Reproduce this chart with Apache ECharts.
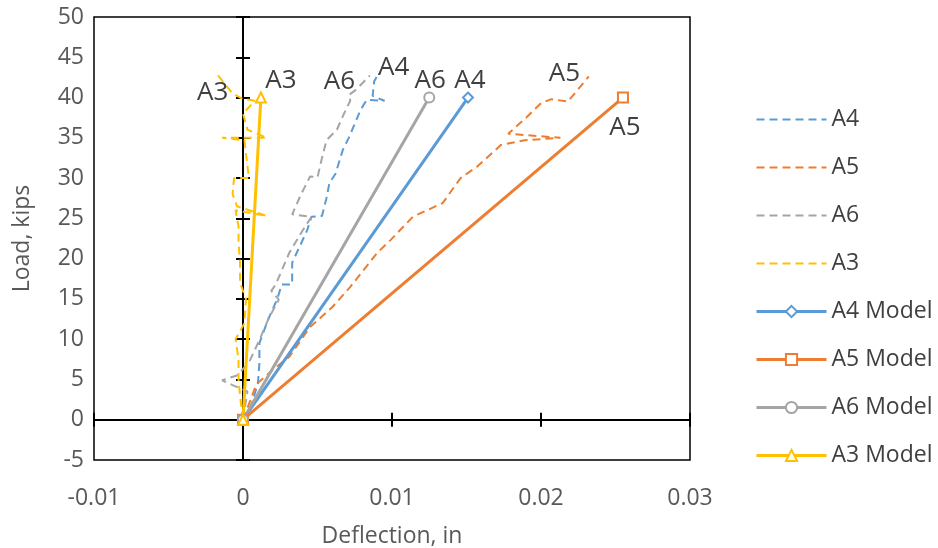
<!DOCTYPE html>
<html><head><meta charset="utf-8">
<script src="https://cdn.jsdelivr.net/npm/echarts@6/dist/echarts.min.js"></script>
<style>html,body{margin:0;padding:0;background:#fff}#c{width:938px;height:548px}</style>
</head><body><div id="c"></div>
<script>
// ---- axis ranges / ticks ----
const xRange = [-0.01, 0.03];
const xStep = 0.01;
const yRange = [-5, 50];
const yStep = 5;

// ---- series names ----
const seriesNames = ['A4', 'A5', 'A6', 'A3', 'A4 Model', 'A5 Model', 'A6 Model', 'A3 Model'];
const seriesColors = ['#5B9BD5', '#ED7D31', '#A5A5A5', '#FFC000', '#5B9BD5', '#ED7D31', '#A5A5A5', '#FFC000'];

// ---- test curves [deflection (in), load (kips)] ----
const testA4 = [[0,0],[0.0005,1.5],[0.0010,4.5],[0.0011,7],[0.0011,9.5],[0.0017,12.5],[0.0023,15],[0.0026,16.8],[0.0033,16.8],[0.0033,19.5],[0.0043,23.5],[0.0046,25.2],[0.0053,25.3],[0.0056,27.5],[0.0058,29.4],[0.0062,30.5],[0.0067,33.5],[0.0071,35],[0.0079,38.5],[0.0083,39.7],[0.0095,39.6],[0.0087,40.2],[0.0088,42],[0.0091,43]];
const testA5 = [[0,0],[0.0009,4.4],[0.0020,6.2],[0.0031,7.8],[0.0045,11.5],[0.0060,14],[0.0072,16.5],[0.0090,20.7],[0.0099,22.3],[0.0114,25.2],[0.0134,26.9],[0.0146,30],[0.0157,31.4],[0.0173,34.1],[0.0189,34.7],[0.0213,35],[0.0178,35.5],[0.0190,37.5],[0.0200,39.3],[0.0207,39.8],[0.0218,39.5],[0.0232,42.6]];
const testA6 = [[0,0],[0.0003,3.5],[-0.0007,4.3],[-0.0014,4.9],[-0.0004,5.5],[0.0004,7.1],[0.0011,9.9],[0.0017,12.5],[0.0024,14.9],[0.0019,16],[0.0022,16.8],[0.0031,20.7],[0.0040,23.5],[0.0046,25.2],[0.0033,25.5],[0.0039,28],[0.0045,30.2],[0.0050,30.1],[0.0053,32.5],[0.0056,34.7],[0.0063,36],[0.0069,38.5],[0.0072,39.6],[0.0071,40.3],[0.0076,41],[0.0085,42.7]];
const testA3 = [[0,0],[-0.0002,3],[-0.0003,5],[-0.0003,7.5],[-0.0005,10],[0.0001,12],[0.0002,15],[-0.0002,17],[-0.0002,19.5],[-0.0003,22],[-0.0003,24],[-0.0005,26],[0.0016,25.3],[-0.0004,26.5],[-0.0007,28],[-0.0006,30],[0.0004,30],[0.0002,33],[0.0001,34.7],[-0.0014,35],[0.0016,35],[0.0003,36],[0.0000,38],[0.0008,39.6],[-0.0001,39.9],[-0.0007,40.5],[-0.0017,42.8]];

// ---- model lines ----
const modelA4 = [[0,0],[0.0151,40]];
const modelA5 = [[0,0],[0.0255,40]];
const modelA6 = [[0,0],[0.0125,40]];
const modelA3 = [[0,0],[0.0012,40]];

const FONT = 'Open Sans';
const TXT = '#404040';
const labelBase = {show: true, fontSize: 26, color: TXT, fontFamily: FONT, formatter: p => p.seriesName.split(' ')[0]};

function testSeries(i, pts, labelOpt) {
  const data = pts.map((p, k) => {
    if (k === pts.length - 1) {
      return {value: p, symbol: 'circle', symbolSize: 1, label: Object.assign({}, labelBase, labelOpt)};
    }
    return p;
  });
  return {
    name: seriesNames[i], type: 'line', xAxisIndex: 0, yAxisIndex: 0,
    symbol: 'none', showSymbol: true, z: 3,
    itemStyle: {color: seriesColors[i]},
    lineStyle: {color: seriesColors[i], width: 2, type: [8, 5]},
    data: data
  };
}
function modelSeries(i, pts, sym, labelOpt) {
  const data = pts.map((p, k) => {
    if (k === pts.length - 1) return {value: p, label: Object.assign({}, labelBase, labelOpt)};
    return p;
  });
  return {
    name: seriesNames[i], type: 'line', xAxisIndex: 0, yAxisIndex: 0,
    symbol: sym, symbolSize: 10, showSymbol: true, z: 4,
    itemStyle: {color: seriesColors[i], borderWidth: 1.2},
    lineStyle: {color: seriesColors[i], width: 3},
    data: data
  };
}

const axisTxt = {fontSize: 23, color: '#595959', fontFamily: FONT};
function crossAxis(inside) {
  return {
    axisLine: {show: true, onZero: true, onZeroAxisIndex: 0, lineStyle: {color: '#000', width: 2}},
    axisTick: {show: true, inside: inside, length: 7, lineStyle: {color: '#000', width: 2}},
    axisLabel: {show: false}, splitLine: {show: false}
  };
}

const legendData = seriesNames.map((n, i) => i < 4 ? {name: n, itemStyle: {opacity: 0, color: 'transparent', borderWidth: 0}} : {name: n});

const option = {
  animation: false,
  backgroundColor: '#fff',
  grid: {left: 94, right: 248, top: 17, bottom: 88, containLabel: false, outerBoundsMode: 'none',
    show: true, borderColor: '#000', borderWidth: 1.5, backgroundColor: 'transparent'},
  legend: {
    orient: 'vertical', left: 750, top: 103, itemWidth: 70, itemHeight: 14, itemGap: 25,
    data: legendData,
    lineStyle: {width: 'inherit'},
    textStyle: {fontSize: 23, color: TXT, fontFamily: FONT}
  },
  xAxis: [
    {type: 'value', min: xRange[0], max: xRange[1], interval: xStep, position: 'bottom',
      name: 'Deflection, in', nameLocation: 'middle', nameGap: 65, nameTextStyle: axisTxt,
      axisLine: {show: false, onZero: false}, axisTick: {show: false}, splitLine: {show: false},
      axisLabel: Object.assign({margin: 27}, axisTxt)},
    Object.assign({type: 'value', min: xRange[0], max: xRange[1], interval: xStep, position: 'bottom'}, crossAxis(true)),
    Object.assign({type: 'value', min: xRange[0], max: xRange[1], interval: xStep, position: 'bottom'}, crossAxis(false))
  ],
  yAxis: [
    {type: 'value', min: yRange[0], max: yRange[1], interval: yStep, position: 'left',
      name: 'Load, kips', nameLocation: 'middle', nameGap: 60, nameRotate: 90, nameTextStyle: axisTxt,
      axisLine: {show: false, onZero: false}, axisTick: {show: false}, splitLine: {show: false},
      axisLabel: Object.assign({margin: 10}, axisTxt)},
    Object.assign({type: 'value', min: yRange[0], max: yRange[1], interval: yStep, position: 'left'}, crossAxis(true)),
    Object.assign({type: 'value', min: yRange[0], max: yRange[1], interval: yStep, position: 'left'}, crossAxis(false))
  ],
  series: [
    testSeries(0, testA4, {position: 'right', offset: [-6, -6]}),
    testSeries(1, testA5, {position: 'left', offset: [-3, -3]}),
    testSeries(2, testA6, {position: 'left', offset: [-9, 6]}),
    testSeries(3, testA3, {position: 'bottom', offset: [-5, -1]}),
    modelSeries(4, modelA4, 'emptyDiamond', {position: 'top', offset: [2, 7]}),
    modelSeries(5, modelA5, 'emptyRect', {position: 'bottom', offset: [2, 6]}),
    modelSeries(6, modelA6, 'emptyCircle', {position: 'top', offset: [1, 7]}),
    modelSeries(7, modelA3, 'emptyTriangle', {position: 'top', offset: [20, 7]})
  ]
};
const chart = echarts.init(document.getElementById('c'), null, {renderer: 'canvas'});
chart.setOption(option);
</script></body></html>
